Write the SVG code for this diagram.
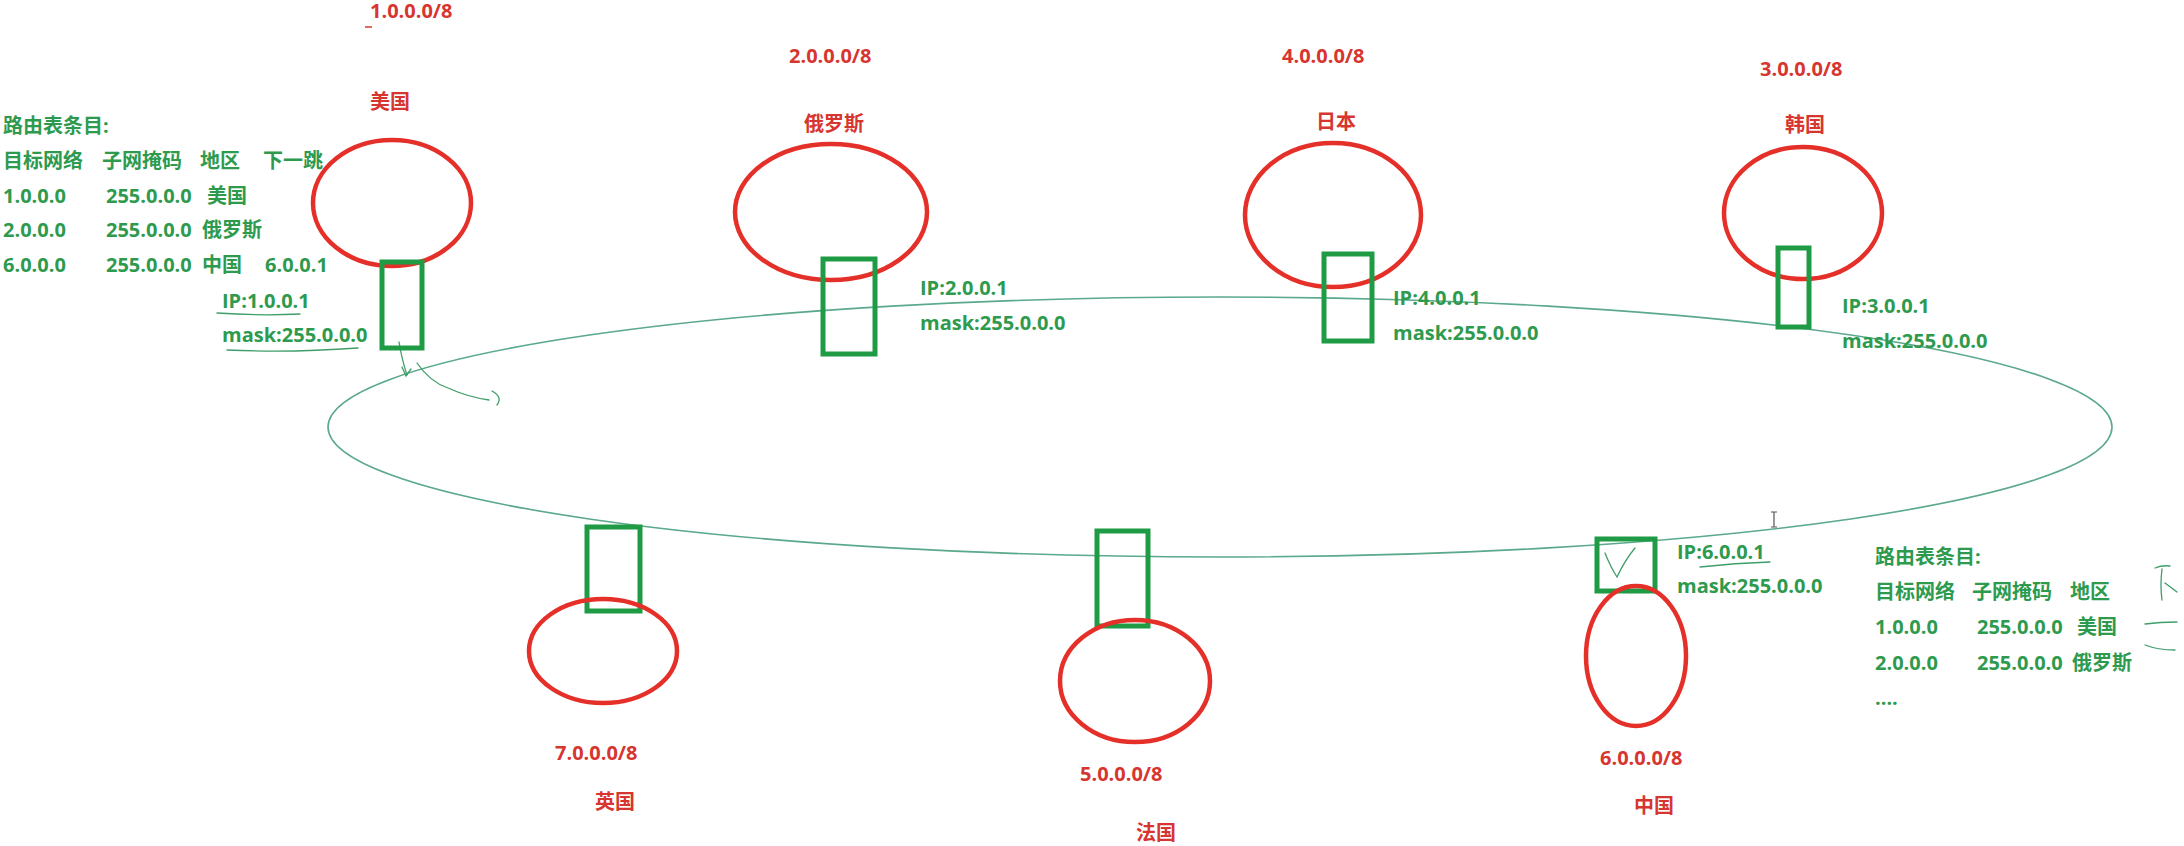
<svg xmlns="http://www.w3.org/2000/svg" width="2184" height="846" viewBox="0 0 2184 846">
<style>
.t{font-family:"Open Sans","Noto Sans CJK SC",sans-serif;font-weight:bold;font-size:20px}
.g{fill:#2e9a4e}
.r{fill:#d7352f}
.oval{fill:none;stroke:#e5302a;stroke-width:4.5}
.port{fill:none;stroke:#1f9a45;stroke-width:5}
.hand{fill:none;stroke:#3f9e6a;stroke-width:1.3;stroke-linecap:round}
</style>
<rect width="2184" height="846" fill="#ffffff"/>
<g id="connectors">
  <ellipse id="backbone" cx="1220" cy="427" rx="892" ry="130" fill="none" stroke="#5aa98a" stroke-width="1.6"/>
  <path class="hand" d="M399 342 Q402 360 407 375"/>
  <path class="hand" d="M402 367 L406 376 L411 369"/>
  <path class="hand" d="M417 363 Q430 382 448 388 Q468 397 489 400"/>
  <path class="hand" d="M492 391 Q503 397 497 405"/>
</g>
<g id="us">
  <text class="t r" x="370" y="18">1.0.0.0/8</text>
  <path d="M365 27 L372 27" stroke="#d7352f" stroke-width="1.5"/>
  <text class="t r" x="370" y="109">美国</text>
  <ellipse class="oval" cx="392" cy="203" rx="79" ry="63"/>
  <rect class="port" x="382" y="262" width="40" height="86"/>
  <text class="t g" x="222" y="308">IP:1.0.0.1</text>
  <text class="t g" x="222" y="342">mask:255.0.0.0</text>
  <path class="hand" d="M217 313 Q260 316 300 314"/>
  <path class="hand" d="M227 350 Q290 353 358 348"/>
</g>
<g id="table-left">
  <text class="t g" x="3" y="133">路由表条目:</text>
  <text class="t g" x="3" y="168">目标网络</text>
  <text class="t g" x="102" y="168">子网掩码</text>
  <text class="t g" x="200" y="168">地区</text>
  <text class="t g" x="263" y="168">下一跳</text>
  <text class="t g" x="3" y="203">1.0.0.0</text>
  <text class="t g" x="106" y="203">255.0.0.0</text>
  <text class="t g" x="207" y="203">美国</text>
  <text class="t g" x="3" y="237">2.0.0.0</text>
  <text class="t g" x="106" y="237">255.0.0.0</text>
  <text class="t g" x="202" y="237">俄罗斯</text>
  <text class="t g" x="3" y="272">6.0.0.0</text>
  <text class="t g" x="106" y="272">255.0.0.0</text>
  <text class="t g" x="202" y="272">中国</text>
  <text class="t g" x="265" y="272">6.0.0.1</text>
</g>
<g id="russia">
  <text class="t r" x="789" y="63">2.0.0.0/8</text>
  <text class="t r" x="804" y="131">俄罗斯</text>
  <ellipse class="oval" cx="831" cy="212" rx="96" ry="68"/>
  <rect class="port" x="823" y="259" width="52" height="95"/>
  <text class="t g" x="920" y="295">IP:2.0.0.1</text>
  <text class="t g" x="920" y="330">mask:255.0.0.0</text>
</g>
<g id="japan">
  <text class="t r" x="1282" y="63">4.0.0.0/8</text>
  <text class="t r" x="1316" y="129">日本</text>
  <ellipse class="oval" cx="1333" cy="215" rx="88" ry="72"/>
  <rect class="port" x="1324" y="254" width="48" height="87"/>
  <text class="t g" x="1393" y="305">IP:4.0.0.1</text>
  <text class="t g" x="1393" y="340">mask:255.0.0.0</text>
</g>
<g id="korea">
  <text class="t r" x="1760" y="76">3.0.0.0/8</text>
  <text class="t r" x="1785" y="132">韩国</text>
  <ellipse class="oval" cx="1803" cy="213" rx="79" ry="66"/>
  <rect class="port" x="1778" y="248" width="31" height="79"/>
  <text class="t g" x="1842" y="313">IP:3.0.0.1</text>
  <text class="t g" x="1842" y="348">mask:255.0.0.0</text>
</g>
<g id="uk">
  <rect class="port" x="587" y="527" width="53" height="84"/>
  <ellipse class="oval" cx="603" cy="651" rx="74" ry="52"/>
  <text class="t r" x="555" y="760">7.0.0.0/8</text>
  <text class="t r" x="595" y="809">英国</text>
</g>
<g id="france">
  <rect class="port" x="1097" y="531" width="51" height="95"/>
  <ellipse class="oval" cx="1135" cy="681" rx="75" ry="61"/>
  <text class="t r" x="1080" y="781">5.0.0.0/8</text>
  <text class="t r" x="1136" y="840">法国</text>
</g>
<g id="china">
  <rect class="port" x="1597" y="539" width="58" height="52"/>
  <path class="hand" d="M1605 553 Q1611 568 1617 577 Q1625 560 1635 548"/>
  <ellipse class="oval" cx="1636" cy="656" rx="50" ry="70"/>
  <text class="t g" x="1677" y="559">IP:6.0.0.1</text>
  <path class="hand" d="M1700 567 Q1735 563 1770 562"/>
  <text class="t g" x="1677" y="593">mask:255.0.0.0</text>
  <text class="t r" x="1600" y="765">6.0.0.0/8</text>
  <text class="t r" x="1634" y="813">中国</text>
</g>
<g id="table-right">
  <text class="t g" x="1875" y="564">路由表条目:</text>
  <text class="t g" x="1875" y="599">目标网络</text>
  <text class="t g" x="1972" y="599">子网掩码</text>
  <text class="t g" x="2070" y="599">地区</text>
  <text class="t g" x="1875" y="634">1.0.0.0</text>
  <text class="t g" x="1977" y="634">255.0.0.0</text>
  <text class="t g" x="2077" y="634">美国</text>
  <text class="t g" x="1875" y="670">2.0.0.0</text>
  <text class="t g" x="1977" y="670">255.0.0.0</text>
  <text class="t g" x="2072" y="670">俄罗斯</text>
  <text class="t g" x="1875" y="705">....</text>
  <path class="hand" d="M2155 568 Q2162 565 2170 566"/>
  <path class="hand" d="M2162 569 Q2160 585 2162 600"/>
  <path class="hand" d="M2165 583 L2177 592"/>
  <path class="hand" d="M2145 624 Q2160 622 2177 622"/>
  <path class="hand" d="M2145 645 Q2158 650 2175 650"/>
</g>
<g id="cursor" stroke="#555" stroke-width="1.2" fill="none">
  <path d="M1774 512 L1774 527 M1771 512 L1777 512 M1771 527 L1777 527"/>
</g>
</svg>
